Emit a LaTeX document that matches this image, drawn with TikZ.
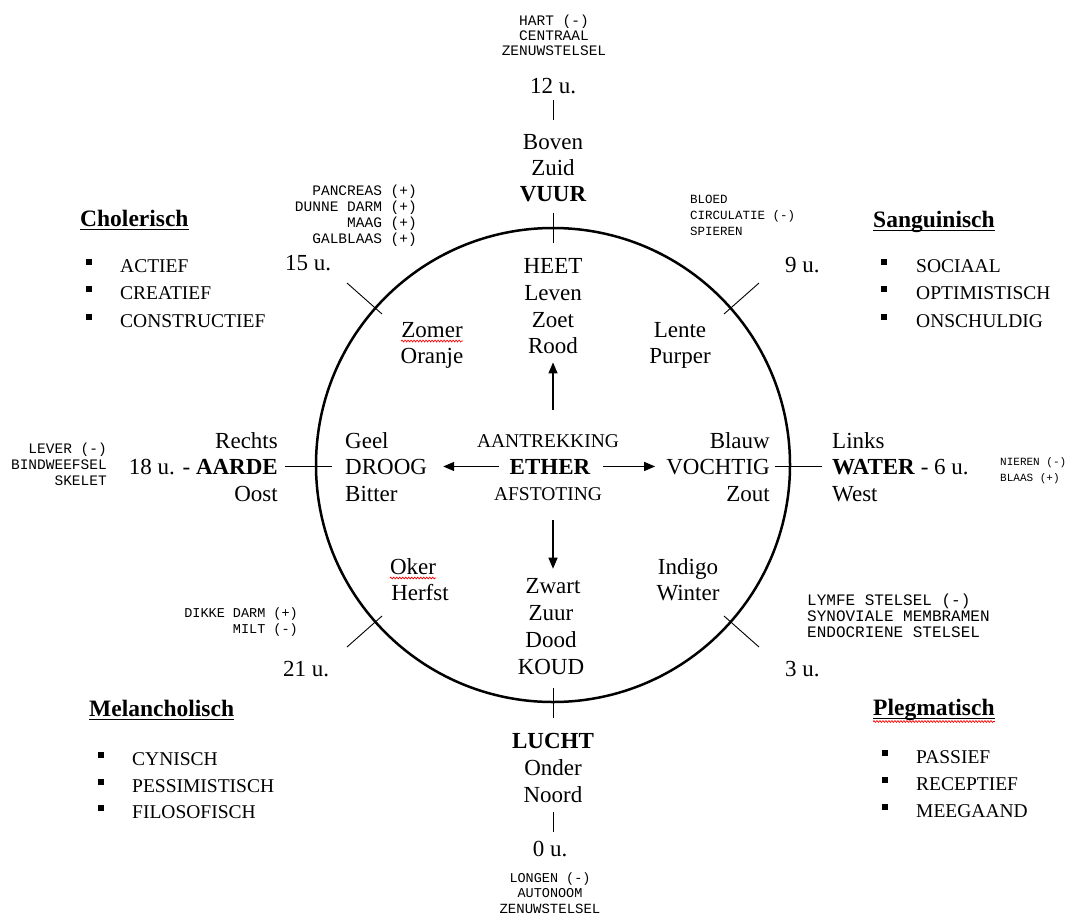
\documentclass[tikz,border=0pt]{standalone}
\usepackage{fontspec}
\setmainfont{Liberation Serif}
\newfontfamily\organfont{Liberation Mono}
\usetikzlibrary{arrows.meta,decorations.pathmorphing}
\begin{document}
\begin{tikzpicture}[x=1pt,y=-1pt,
  txt/.style={inner sep=0pt, anchor=base, font=\fontsize{23}{26}\selectfont},
  txtb/.style={inner sep=0pt, anchor=base, font=\bfseries\fontsize{23}{26}\selectfont},
  med/.style={inner sep=0pt, anchor=base, font=\fontsize{19.5}{24}\selectfont},
  organ/.style={inner sep=0pt, font=\organfont\fontsize{#1}{16}\selectfont},
  organ/.default=14.5,
  head/.style={inner sep=0pt, anchor=base west, font=\bfseries\fontsize{23.5}{28}\selectfont},
  bul/.style={fill=black, inner sep=0pt, minimum size=6pt},
  trait/.style={inner sep=0pt, anchor=base west, font=\fontsize{19.5}{24}\selectfont},
  tick/.style={line width=0.9pt},
  flow/.style={line width=1.3pt, -{Triangle[length=11pt,width=9pt]}},
  spell/.style={red, line width=0.7pt, decorate, decoration={snake, amplitude=0.9pt, segment length=3pt}},
  uline/.style={line width=1.5pt}
]
\useasboundingbox (0,0) rectangle (1073,918);

% wheel
\node[circle, draw, line width=2.5pt, minimum size=474pt, inner sep=0pt] (wheel) at (553,465) {};

% ---- top
\node[organ=14.5, anchor=base] (hart) at (554,25) {HART (-)};
\node[organ=14.5, anchor=base] (centraal) at (554,40) {CENTRAAL};
\node[organ=14.5, anchor=base] (czenuw) at (554,55) {ZENUWSTELSEL};
\node[txt] (u12) at (553,93) {12 u.};
\node[txt] (boven) at (553,149) {Boven};
\node[txt] (zuid) at (553,175) {Zuid};
\node[txtb] (vuur) at (553,201) {VUUR};
\draw[tick, shorten <=6pt, shorten >=14pt] (boven.north |- u12.south) -- (boven.north);

% ---- inside top
\node[txt] (heet) at (553,273) {HEET};
\node[txt] (leven) at (553,300) {Leven};
\node[txt] (zoet) at (553,327) {Zoet};
\node[txt] (rood) at (553,353) {Rood};
\node[txt] (zomer) at (432,337) {Zomer};
\node[txt] (oranje) at (432,363) {Oranje};
\node[txt] (lente) at (680,337) {Lente};
\node[txt] (purper) at (680,363) {Purper};

% ---- centre
\node[med] (aan) at (548,447) {AANTREKKING};
\node[txtb] (ether) at (550,474) {ETHER};
\node[med] (afs) at (548,500) {AFSTOTING};
\node[txt, anchor=base west] (geel) at (345,448) {Geel};
\node[txt, anchor=base west] (droog) at (345,474) {DROOG};
\node[txt, anchor=base west] (bitter) at (345,501) {Bitter};
\node[txt, anchor=base east] (blauw) at (770,448) {Blauw};
\node[txt, anchor=base east] (vochtig) at (770,474) {VOCHTIG};
\node[txt, anchor=base east] (zout) at (770,501) {Zout};

% ---- inside bottom
\node[txt] (oker) at (413,574) {Oker};
\node[txt] (herfst) at (420,600) {Herfst};
\node[txt] (indigo) at (688,574) {Indigo};
\node[txt] (winter) at (688,600) {Winter};
\node[txt] (zwart) at (553,593) {Zwart};
\node[txt] (zuur) at (551,620) {Zuur};
\node[txt] (dood) at (551,647) {Dood};
\node[txt] (koud) at (551,674) {KOUD};

% ---- arrows
\draw[flow, shorten <=24pt, shorten >=9pt] (rood.south |- aan.north) -- (rood.south);
\draw[flow, shorten <=20pt, shorten >=9pt] (zwart.north |- afs.south) -- (zwart.north);
\draw[flow, shorten <=11pt, shorten >=16pt] (ether.west) -- (droog.east |- ether.west);
\draw[flow, shorten <=13pt, shorten >=11pt] (ether.east) -- (vochtig.west |- ether.east);

% ---- left / right outside
\node[txt, anchor=base east] (rechts) at (278,448) {Rechts};
\node[txt, anchor=base east] (aarde) at (278,474) {18 u. - \textbf{AARDE}};
\node[txt, anchor=base east] (oost) at (278,501) {Oost};
\node[txt, anchor=base west] (links) at (832,448) {Links};
\node[txt, anchor=base west] (water) at (832,474) {\textbf{WATER} - 6 u.};
\node[txt, anchor=base west] (west) at (832,501) {West};

\node[organ=14.5, anchor=base east] (lever) at (107,453) {LEVER (-)};
\node[organ=14.5, anchor=base east] (bind) at (107,469) {BINDWEEFSEL};
\node[organ=14.5, anchor=base east] (skelet) at (107,485) {SKELET};
\node[organ=11, anchor=base west] (nieren) at (1000,465) {NIEREN (-)};
\node[organ=11, anchor=base west] (blaas) at (1000,481) {BLAAS (+)};

% ---- bottom
\node[txtb] (lucht) at (553,748) {LUCHT};
\node[txt] (onder) at (553,775) {Onder};
\node[txt] (noord) at (553,802) {Noord};
\node[txt] (u0) at (550,856) {0 u.};
\draw[tick, shorten <=10pt, shorten >=9pt] (noord.south) -- (noord.south |- u0.north);
\node[organ=13.5, anchor=base] (longen) at (550,882) {LONGEN (-)};
\node[organ=13.5, anchor=base] (auto) at (550,897) {AUTONOOM};
\node[organ=14, anchor=base] (azenuw) at (550,913) {ZENUWSTELSEL};

% ---- hours and organs at the diagonals
\node[txt, anchor=base west] (u15) at (285,270) {15 u.};
\node[txt, anchor=base west] (u9) at (785,272) {9 u.};
\node[txt, anchor=base west] (u21) at (283,676) {21 u.};
\node[txt, anchor=base west] (u3) at (785,676) {3 u.};

\node[organ=14.5, anchor=base east] (pancreas) at (417,195) {PANCREAS (+)};
\node[organ=14.5, anchor=base east] (dunne) at (417,211) {DUNNE DARM (+)};
\node[organ=14.5, anchor=base east] (maag) at (417,227) {MAAG (+)};
\node[organ=14.5, anchor=base east] (gal) at (417,243) {GALBLAAS (+)};

\node[organ=12.5, anchor=base west] (bloed) at (690,203) {BLOED};
\node[organ=12.5, anchor=base west] (circ) at (690,219) {CIRCULATIE (-)};
\node[organ=12.5, anchor=base west] (spieren) at (690,235) {SPIEREN};

\node[organ=13.5, anchor=base east] (dikke) at (298,617) {DIKKE DARM (+)};
\node[organ=13.5, anchor=base east] (milt) at (298,633) {MILT (-)};

\node[organ=16, anchor=base west] (lymfe) at (807,605) {LYMFE STELSEL (-)};
\node[organ=16, anchor=base west] (syn) at (807,621) {SYNOVIALE MEMBRAMEN};
\node[organ=16, anchor=base west] (endo) at (807,637) {ENDOCRIENE STELSEL};

% ---- tick marks on the wheel
\coordinate (tN1) at (553,213); \coordinate (tN2) at (553,243);
\coordinate (tS1) at (553,688); \coordinate (tS2) at (553,718);
\coordinate (tW1) at (285,466); \coordinate (tW2) at (332,466);
\coordinate (tE1) at (775,466); \coordinate (tE2) at (822,466);
\coordinate (tUL1) at (382,314); \coordinate (tUL2) at (347,283);
\coordinate (tUR1) at (724,314); \coordinate (tUR2) at (759,283);
\coordinate (tLL1) at (382,616); \coordinate (tLL2) at (347,647);
\coordinate (tLR1) at (724,616); \coordinate (tLR2) at (759,647);
\draw[tick] (tN1) -- (tN2);
\draw[tick] (tS1) -- (tS2);
\draw[tick] (tW1) -- (tW2);
\draw[tick] (tE1) -- (tE2);
\draw[tick] (tUL1) -- (tUL2);
\draw[tick] (tUR1) -- (tUR2);
\draw[tick] (tLL1) -- (tLL2);
\draw[tick] (tLR1) -- (tLR2);

% ---- temperaments
\node[head] (chol) at (80,226) {Cholerisch};
\node[head] (sang) at (873,227) {Sanguinisch};
\node[head] (mel) at (89,716) {Melancholisch};
\node[head] (pleg) at (873,715) {Plegmatisch};
\foreach \h in {chol,sang,mel,pleg}
  \draw[uline] ([yshift=-3.5pt]\h.base west) -- ([yshift=-3.5pt]\h.base east);

\node[bul] (b1) at (89,262) {};
\node[bul] (b2) at (89,289) {};
\node[bul] (b3) at (89,317) {};
\node[trait] (actief) at (120,272) {ACTIEF};
\node[trait] (creatief) at (120,299) {CREATIEF};
\node[trait] (constr) at (120,327) {CONSTRUCTIEF};

\node[bul] (b4) at (884,262) {};
\node[bul] (b5) at (884,289) {};
\node[bul] (b6) at (884,317) {};
\node[trait] (sociaal) at (916,272) {SOCIAAL};
\node[trait] (optim) at (916,299) {OPTIMISTISCH};
\node[trait] (onsch) at (916,327) {ONSCHULDIG};

\node[bul] (b7) at (101,755) {};
\node[bul] (b8) at (101,782) {};
\node[bul] (b9) at (101,808) {};
\node[trait] (cyn) at (132,765) {CYNISCH};
\node[trait] (pess) at (132,792) {PESSIMISTISCH};
\node[trait] (filo) at (132,818) {FILOSOFISCH};

\node[bul] (b10) at (885,753) {};
\node[bul] (b11) at (885,780) {};
\node[bul] (b12) at (885,807) {};
\node[trait] (pass) at (916,763) {PASSIEF};
\node[trait] (recep) at (916,790) {RECEPTIEF};
\node[trait] (meeg) at (916,817) {MEEGAAND};

% ---- spelling marks
\draw[spell] ([yshift=-4pt]zomer.base west) -- ([yshift=-4pt]zomer.base east);
\draw[spell] ([yshift=-4pt]oker.base west) -- ([yshift=-4pt]oker.base east);
\draw[spell] ([yshift=-6.5pt]pleg.base west) -- ([yshift=-6.5pt]pleg.base east);
\end{tikzpicture}
\end{document}
